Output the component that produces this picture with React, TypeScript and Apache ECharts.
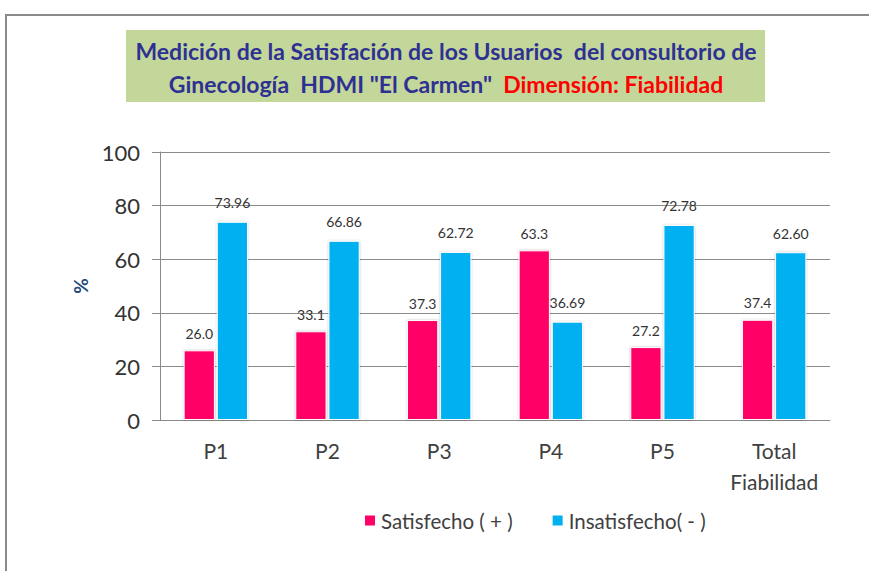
import React, { useEffect, useRef } from "react";
import * as echarts from "echarts";

const categories = ["P1", "P2", "P3", "P4", "P5", "Total\nFiabilidad"];
const satisfecho = [26.0, 33.1, 37.3, 63.3, 27.2, 37.4];
const insatisfecho = [73.96, 66.86, 62.72, 36.69, 72.78, 62.6];
const seriesNames = ["Satisfecho ( + )", "Insatisfecho( - )"];
const yTicks = [0, 20, 40, 60, 80, 100];
const titleLine1 = "Medición de la Satisfación de los Usuarios  del consultorio de";
const titleLine2a = "Ginecología  HDMI \"El Carmen\"  ";
const titleLine2b = "Dimensión: Fiabilidad";

export default function App() {
  const ref = useRef<HTMLDivElement>(null);
  useEffect(() => {
    if (!ref.current) return;
    const chart = echarts.init(ref.current, undefined, { renderer: "svg" });
    const font = "Lato, 'Open Sans', sans-serif";
    chart.setOption({
      animation: false,
      backgroundColor: "#ffffff",
      textStyle: { fontFamily: font },
      graphic: [
        {
          type: "rect",
          shape: { x: 6, y: 15, width: 900, height: 600 },
          style: { fill: "none", stroke: "#8a8a8a", lineWidth: 2 },
          z: 0,
        },
        {
          type: "rect",
          shape: { x: 126, y: 30, width: 639, height: 72 },
          style: { fill: "#C4D79B" },
          z: 0,
        },
        {
          type: "text",
          x: 446,
          y: 34,
          z: 10,
          style: {
            text: `{b|${titleLine1}}\n{b|${titleLine2a}}{r|${titleLine2b}}`,
            align: "center",
            verticalAlign: "top",
            rich: {
              b: { fontSize: 23, fontWeight: "bold", fill: "#2E3192", color: "#2E3192", fontFamily: font, lineHeight: 33, align: "center" },
              r: { fontSize: 23, fontWeight: "bold", fill: "#FF0000", color: "#FF0000", fontFamily: font, lineHeight: 33, align: "center" },
            },
          },
        },
      ],
      legend: {
        bottom: 35,
        left: 358,
        itemWidth: 12,
        itemHeight: 12,
        itemGap: 38,
        icon: "rect",
        textStyle: { fontSize: 20.5, color: "#404040", fontFamily: font },
        data: seriesNames,
      },
      grid: { left: 160, right: 39, top: 152, bottom: 151 },
      xAxis: {
        type: "category",
        data: categories,
        axisLine: { lineStyle: { color: "#8a8a8a", width: 1 } },
        axisTick: { show: false },
        axisLabel: { interval: 0, fontSize: 21, color: "#404040", margin: 15, lineHeight: 31, fontFamily: font },
      },
      yAxis: {
        type: "value",
        min: 0,
        max: 100,
        interval: 20,
        name: "%",
        nameLocation: "middle",
        nameGap: 70,
        nameRotate: 90,
        nameTextStyle: { fontSize: 19, fontWeight: "bold", color: "#1F497D", fontFamily: font },
        axisLine: { show: true, lineStyle: { color: "#8a8a8a" } },
        axisTick: { show: true, length: 8, lineStyle: { color: "#8a8a8a" } },
        splitLine: { lineStyle: { color: "#8a8a8a" } },
        axisLabel: {
          fontSize: 22,
          color: "#333333",
          margin: 20,
          fontFamily: font,
          formatter: (v: number) => (yTicks.includes(v) ? String(v) : ""),
        },
      },
      series: [
        {
          name: seriesNames[0],
          type: "bar",
          data: satisfecho,
          barWidth: "28%",
          barGap: "6%",
          itemStyle: { color: "#FF0066", borderColor: "#ffffff", borderWidth: 1, shadowColor: "rgba(0,0,0,0.25)", shadowBlur: 2 },
          label: {
            show: true,
            position: "top",
            distance: 10,
            fontSize: 14,
            color: "#333333",
            fontFamily: font,
            formatter: (p: any) => Number(p.value).toFixed(1),
          },
        },
        {
          name: seriesNames[1],
          type: "bar",
          data: insatisfecho,
          barWidth: "28%",
          itemStyle: { color: "#00B0F0", borderColor: "#ffffff", borderWidth: 1, shadowColor: "rgba(0,0,0,0.25)", shadowBlur: 2 },
          label: {
            show: true,
            position: "top",
            distance: 12,
            fontSize: 14,
            color: "#333333",
            fontFamily: font,
            formatter: (p: any) => Number(p.value).toFixed(2),
          },
        },
      ],
    });
    return () => chart.dispose();
  }, []);
  return (
    <div
      ref={ref}
      style={{ position: "fixed", left: 0, top: 0, width: 869, height: 571 }}
    />
  );
}
